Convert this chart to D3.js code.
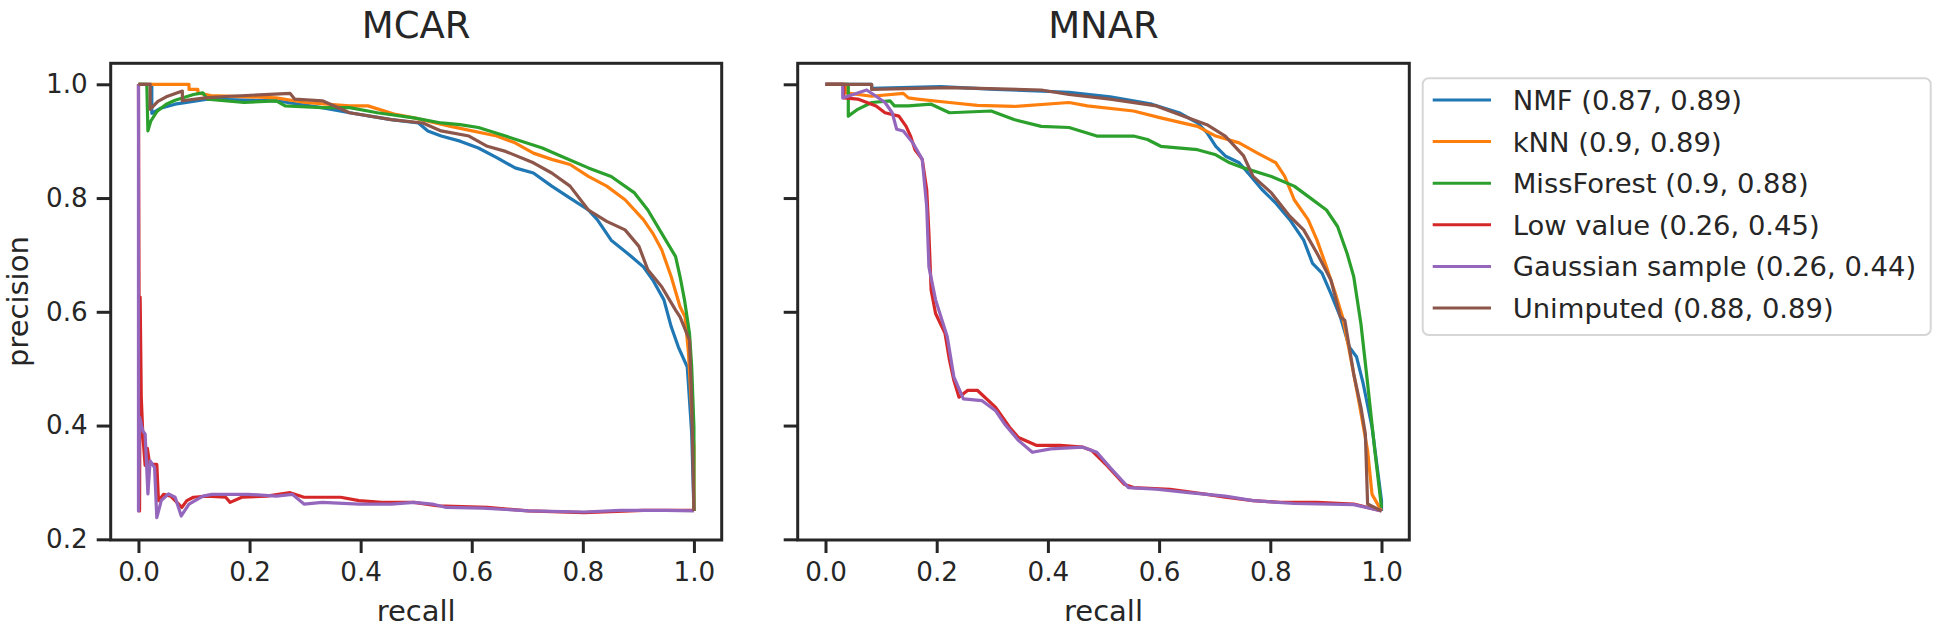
<!DOCTYPE html>
<html><head><meta charset="utf-8">
<script src="https://cdn.jsdelivr.net/npm/d3@7"></script>
<style>body{margin:0;background:#fff}svg{display:block}text{font-family:"DejaVu Sans",sans-serif;fill:#262626}</style>
</head><body><svg id="c" width="1933" height="630"></svg>
<script>
const seriesNames = ["NMF (0.87, 0.89)","kNN (0.9, 0.89)","MissForest (0.9, 0.88)","Low value (0.26, 0.45)","Gaussian sample (0.26, 0.44)","Unimputed (0.88, 0.89)"];
const seriesColors = ["#1f77b4","#ff7f0e","#2ca02c","#d62728","#9467bd","#8c564b"];
const panelTitles = ["MCAR","MNAR"];
const xTicks = [0.0,0.2,0.4,0.6,0.8,1.0];
const yTicks = [0.2,0.4,0.6,0.8,1.0];

// MCAR curves: [recall, precision]
const mcarNMF = [[0,1],[0.024,1],[0.024,0.949],[0.04,0.958],[0.066,0.965],[0.124,0.974],[0.248,0.971],[0.33,0.959],[0.38,0.95],[0.455,0.938],[0.504,0.932],[0.521,0.918],[0.545,0.909],[0.579,0.9],[0.612,0.888],[0.645,0.871],[0.678,0.853],[0.711,0.844],[0.744,0.821],[0.777,0.8],[0.81,0.779],[0.826,0.762],[0.851,0.726],[0.884,0.7],[0.909,0.679],[0.926,0.656],[0.946,0.621],[0.959,0.574],[0.972,0.538],[0.988,0.503],[0.992,0.445],[0.996,0.386],[1,0.25]];
const mcarKNN = [[0,1],[0.091,1],[0.091,0.991],[0.107,0.991],[0.107,0.985],[0.13,0.98],[0.2,0.978],[0.248,0.976],[0.3,0.968],[0.38,0.962],[0.413,0.962],[0.463,0.947],[0.496,0.941],[0.562,0.926],[0.645,0.909],[0.678,0.897],[0.711,0.879],[0.744,0.868],[0.777,0.859],[0.81,0.838],[0.843,0.821],[0.876,0.797],[0.909,0.762],[0.926,0.738],[0.942,0.709],[0.959,0.662],[0.975,0.609],[0.984,0.591],[0.99,0.53],[0.995,0.444],[1,0.362],[1,0.25]];
const mcarMissForest = [[0,1],[0.015,1],[0.017,0.918],[0.022,0.935],[0.033,0.952],[0.05,0.965],[0.066,0.972],[0.099,0.982],[0.116,0.985],[0.124,0.974],[0.19,0.968],[0.248,0.971],[0.264,0.962],[0.331,0.959],[0.38,0.959],[0.43,0.95],[0.496,0.941],[0.545,0.932],[0.579,0.929],[0.612,0.924],[0.661,0.909],[0.727,0.888],[0.76,0.874],[0.81,0.853],[0.851,0.838],[0.893,0.809],[0.917,0.779],[0.942,0.738],[0.967,0.697],[0.975,0.662],[0.983,0.621],[0.992,0.562],[0.996,0.503],[1,0.397],[1,0.25]];
const mcarLow = [[0,1],[0.002,0.25],[0.003,0.626],[0.005,0.45],[0.008,0.38],[0.012,0.33],[0.016,0.36],[0.02,0.332],[0.033,0.332],[0.036,0.268],[0.045,0.279],[0.058,0.276],[0.078,0.256],[0.087,0.268],[0.099,0.274],[0.124,0.276],[0.157,0.274],[0.165,0.265],[0.186,0.274],[0.231,0.276],[0.273,0.282],[0.298,0.274],[0.331,0.274],[0.364,0.274],[0.397,0.268],[0.438,0.265],[0.496,0.265],[0.537,0.259],[0.628,0.256],[0.702,0.25],[0.802,0.247],[0.909,0.251],[1,0.251]];
const mcarGauss = [[0,1],[0,0.25],[0.002,0.415],[0.008,0.39],[0.012,0.385],[0.017,0.28],[0.021,0.338],[0.029,0.326],[0.033,0.238],[0.041,0.268],[0.054,0.28],[0.066,0.274],[0.077,0.241],[0.091,0.262],[0.116,0.276],[0.132,0.279],[0.198,0.279],[0.248,0.276],[0.277,0.279],[0.298,0.262],[0.331,0.265],[0.397,0.262],[0.455,0.262],[0.496,0.265],[0.529,0.262],[0.554,0.256],[0.62,0.255],[0.702,0.25],[0.802,0.248],[0.868,0.251],[0.95,0.251],[1,0.25]];
const mcarUnimputed = [[0,1],[0.021,1],[0.021,0.956],[0.035,0.97],[0.05,0.978],[0.079,0.988],[0.079,0.971],[0.12,0.976],[0.165,0.979],[0.273,0.984],[0.281,0.974],[0.331,0.971],[0.38,0.95],[0.455,0.938],[0.512,0.932],[0.545,0.918],[0.595,0.909],[0.628,0.891],[0.661,0.882],[0.711,0.862],[0.744,0.844],[0.777,0.821],[0.81,0.779],[0.843,0.759],[0.876,0.744],[0.901,0.715],[0.917,0.674],[0.942,0.644],[0.967,0.603],[0.975,0.591],[0.992,0.55],[0.996,0.444],[1,0.25]];

// MNAR curves
const mnarNMF = [[0,1],[0.083,1],[0.083,0.993],[0.207,0.996],[0.306,0.991],[0.438,0.986],[0.512,0.978],[0.587,0.965],[0.636,0.95],[0.669,0.932],[0.686,0.915],[0.702,0.891],[0.719,0.874],[0.744,0.862],[0.76,0.844],[0.785,0.815],[0.81,0.791],[0.835,0.762],[0.86,0.726],[0.876,0.685],[0.893,0.668],[0.909,0.632],[0.926,0.591],[0.942,0.538],[0.955,0.521],[0.967,0.474],[0.983,0.397],[1,0.268],[1,0.25]];
const mnarKNN = [[0,1],[0.037,1],[0.037,0.985],[0.083,0.979],[0.14,0.984],[0.149,0.976],[0.165,0.974],[0.223,0.968],[0.273,0.963],[0.339,0.961],[0.438,0.968],[0.471,0.962],[0.554,0.953],[0.603,0.941],[0.669,0.926],[0.702,0.909],[0.744,0.897],[0.777,0.879],[0.81,0.862],[0.826,0.838],[0.843,0.797],[0.868,0.762],[0.884,0.726],[0.901,0.679],[0.917,0.632],[0.93,0.591],[0.942,0.532],[0.959,0.444],[0.975,0.356],[0.983,0.279],[1,0.25]];
const mnarMissForest = [[0,1],[0.041,1],[0.041,0.944],[0.058,0.956],[0.083,0.968],[0.116,0.971],[0.124,0.962],[0.149,0.962],[0.19,0.965],[0.223,0.95],[0.298,0.953],[0.339,0.938],[0.388,0.926],[0.438,0.924],[0.488,0.909],[0.554,0.909],[0.579,0.903],[0.603,0.891],[0.669,0.885],[0.702,0.876],[0.727,0.862],[0.752,0.853],[0.802,0.838],[0.843,0.821],[0.868,0.803],[0.901,0.779],[0.921,0.75],[0.938,0.703],[0.95,0.662],[0.963,0.579],[0.975,0.474],[0.988,0.356],[1,0.256]];
const mnarLow = [[0,1],[0.033,1],[0.033,0.976],[0.058,0.974],[0.091,0.962],[0.107,0.95],[0.132,0.944],[0.145,0.926],[0.153,0.909],[0.161,0.885],[0.174,0.868],[0.182,0.815],[0.186,0.738],[0.19,0.638],[0.198,0.597],[0.215,0.562],[0.223,0.515],[0.231,0.479],[0.24,0.45],[0.256,0.462],[0.273,0.462],[0.306,0.432],[0.331,0.397],[0.347,0.379],[0.38,0.365],[0.422,0.365],[0.463,0.362],[0.479,0.356],[0.504,0.332],[0.537,0.297],[0.554,0.291],[0.62,0.288],[0.686,0.279],[0.719,0.274],[0.769,0.268],[0.818,0.265],[0.884,0.265],[0.95,0.262],[1,0.25]];
const mnarGauss = [[0,1],[0.031,1],[0.031,0.976],[0.074,0.99],[0.091,0.979],[0.107,0.968],[0.12,0.95],[0.128,0.921],[0.14,0.918],[0.157,0.897],[0.174,0.868],[0.182,0.785],[0.186,0.679],[0.198,0.621],[0.219,0.556],[0.231,0.485],[0.248,0.447],[0.281,0.444],[0.306,0.426],[0.322,0.403],[0.347,0.374],[0.372,0.353],[0.405,0.359],[0.463,0.362],[0.488,0.353],[0.512,0.326],[0.545,0.291],[0.595,0.288],[0.653,0.282],[0.719,0.276],[0.769,0.268],[0.843,0.263],[0.95,0.261],[1,0.25]];
const mnarUnimputed = [[0,1],[0.083,1],[0.083,0.991],[0.223,0.994],[0.388,0.99],[0.438,0.982],[0.512,0.974],[0.595,0.962],[0.636,0.947],[0.686,0.929],[0.719,0.909],[0.752,0.874],[0.769,0.838],[0.802,0.809],[0.835,0.768],[0.86,0.744],[0.884,0.703],[0.909,0.656],[0.926,0.591],[0.934,0.585],[0.95,0.491],[0.963,0.432],[0.971,0.385],[0.975,0.262],[1,0.25]];

const panelData = [
  [mcarNMF, mcarKNN, mcarMissForest, mcarLow, mcarGauss, mcarUnimputed],
  [mnarNMF, mnarKNN, mnarMissForest, mnarLow, mnarGauss, mnarUnimputed]
];

const svg = d3.select("#c");
const TXT = "#262626";
const panelsX = [[110.7, 721.7], [797.7, 1409.3]];
const yRange = [540, 63.3];
const y = d3.scaleLinear().domain([0.1988, 1.0369]).range(yRange);

panelsX.forEach((px, i) => {
  const x = d3.scaleLinear().domain([-0.05, 1.05]).range(px);
  const g = svg.append("g");
  const line = d3.line().x(d => x(d[0])).y(d => y(d[1]));
  panelData[i].forEach((data, k) => {
    g.append("path").datum(data).attr("d", line)
      .attr("fill", "none").attr("stroke", seriesColors[k])
      .attr("stroke-width", 3.2).attr("stroke-linejoin", "round").attr("stroke-linecap", "butt");
  });
  const ax = g.append("g").attr("transform", `translate(0,${yRange[0]})`)
    .call(d3.axisBottom(x).tickValues(xTicks).tickFormat(d3.format(".1f")).tickSize(13).tickPadding(9).tickSizeOuter(0));
  ax.select(".domain").remove();
  ax.selectAll("line").attr("stroke", TXT).attr("stroke-width", 3);
  ax.selectAll("text").attr("font-size", 26.2).attr("fill", TXT).style("font-family", "DejaVu Sans");
  const ay = g.append("g").attr("transform", `translate(${px[0]},0)`)
    .call(d3.axisLeft(y).tickValues(yTicks).tickFormat(i === 0 ? d3.format(".1f") : () => "").tickSize(14).tickPadding(9).tickSizeOuter(0));
  ay.select(".domain").remove();
  ay.selectAll("line").attr("stroke", TXT).attr("stroke-width", 3);
  ay.selectAll("text").attr("font-size", 26.2).attr("fill", TXT).style("font-family", "DejaVu Sans");
  g.append("rect").attr("x", px[0]).attr("y", yRange[1]).attr("width", px[1] - px[0]).attr("height", yRange[0] - yRange[1])
    .attr("fill", "none").attr("stroke", TXT).attr("stroke-width", 3);
  const cx = (px[0] + px[1]) / 2;
  g.append("text").attr("x", cx).attr("y", 38).attr("text-anchor", "middle").attr("font-size", 37).text(panelTitles[i]);
  g.append("text").attr("x", cx).attr("y", 621).attr("text-anchor", "middle").attr("font-size", 29).text("recall");
});

svg.append("text").attr("transform", `translate(28,${(yRange[0] + yRange[1]) / 2}) rotate(-90)`)
  .attr("text-anchor", "middle").attr("font-size", 29).text("precision");

const lg = svg.append("g");
lg.append("rect").attr("x", 1422.7).attr("y", 78.3).attr("width", 508).attr("height", 256.7).attr("rx", 6)
  .attr("fill", "#fff").attr("stroke", "#d6d6d6").attr("stroke-width", 2);
seriesNames.forEach((name, k) => {
  const cy = 100 + k * 41.6;
  lg.append("line").attr("x1", 1432.7).attr("x2", 1491).attr("y1", cy).attr("y2", cy)
    .attr("stroke", seriesColors[k]).attr("stroke-width", 3);
  lg.append("text").attr("x", 1512.7).attr("y", cy + 10).attr("font-size", 27.4).text(name);
});
</script></body></html>
